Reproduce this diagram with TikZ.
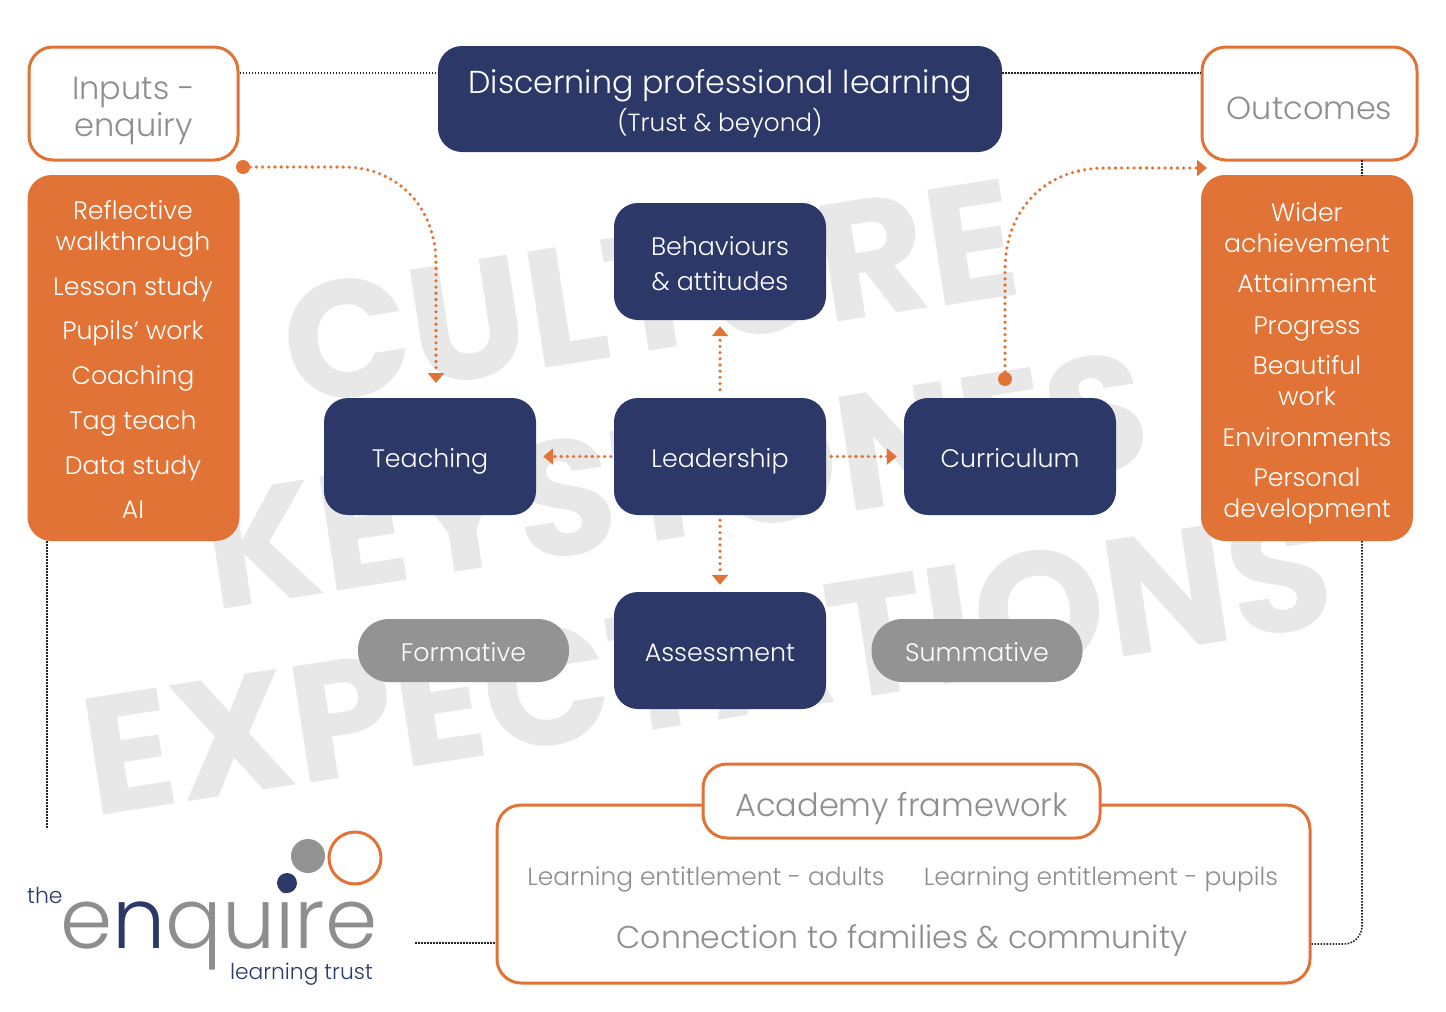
\documentclass[tikz,border=0pt]{standalone}
\usepackage{fontspec}
\setmainfont{Poppins}[UprightFont=* Light,BoldFont=* Bold]
\usetikzlibrary{arrows.meta,calc}
\definecolor{navy}{HTML}{2B3868}
\definecolor{orng}{HTML}{E07335}
\definecolor{midgrey}{HTML}{939393}
\definecolor{txtgrey}{HTML}{8E8E8E}
\definecolor{wm}{HTML}{E8E8E8}
\newcommand{\fs}[2]{\fontsize{#1}{#2}\selectfont}
\newcommand{\lift}[1]{\rule{0pt}{#1pt}}
\tikzset{
 base/.style={inner sep=0pt,align=center,rounded corners=24pt},
 navybox/.style={base,fill=navy,text=white,minimum width=212pt,minimum height=117pt,font=\fs{25.3}{35}},
 oneline/.style={text height=#1pt,text depth=3pt},
 outl/.style={base,draw=orng,line width=3pt,fill=white,text=txtgrey},
 listbox/.style={base,fill=orng,minimum width=212pt,minimum height=366pt},
 pill/.style={base,fill=midgrey,text=white,minimum width=211pt,minimum height=63pt,rounded corners=31pt,font=\fs{25.3}{30},oneline=25},
 li/.style={inner sep=0pt,align=center,text=white,font=\fs{25.2}{31}},
 lione/.style={inner sep=0pt,anchor=base,text=white,font=\fs{25.2}{31}},
 gt/.style={inner sep=0pt,text=txtgrey,anchor=base},
 wmk/.style={inner sep=0pt,text=wm,rotate=8.8,font=\bfseries\fs{167}{167}},
 link/.style={draw=black!85,line width=1.6pt,dash pattern=on 1.6pt off 1.4pt},
 flow/.style={draw=orng,line width=3.6pt,line cap=round,dash pattern=on 0pt off 6.2pt,-{Triangle[width=16pt,length=10pt]}},
}
\begin{document}
\begin{tikzpicture}[x=1pt,y=-1pt]
\useasboundingbox (0,0) rectangle (1446,1012);
% watermark
\node[wmk] (w1) at (650,292) {CULTURE};
\node[wmk,font=\bfseries\fs{164}{164}] (w2) at (676,480) {KEYSTONES};
\node[wmk] (w3) at (707,662) {EXPECTATIONS};
% anchors for free ends
\coordinate (leftend) at (47,829);
\coordinate (logoend) at (415,943);
% main boxes
\node[outl,minimum width=209pt,minimum height=113pt,font=\fs{32}{37}] (inputs) at (133.5,103.5) {\lift{38}Inputs -\\enquiry};
\node[base,fill=navy,text=white,minimum width=564pt,minimum height=106pt] (disc) at (720,99) {\fs{31.7}{38}\lift{34}Discerning professional learning\\[5pt]\fs{24.8}{38}(Trust \& beyond)};
\node[outl,minimum width=215pt,minimum height=113pt,font=\fs{31.9}{37},text height=35pt,text depth=4pt] (outcomes) at (1309.5,103.5) {Outcomes};
\node[listbox] (inlist) at (133.5,358) {};
\node[listbox] (outlist) at (1307,358) {};
\node[navybox] (beh) at (720,261.5) {\lift{24}Behaviours\\\& attitudes};
\node[navybox,oneline=25] (lead) at (720,456.5) {Leadership};
\node[navybox,oneline=25] (teach) at (430,456.5) {Teaching};
\node[navybox,oneline=25] (curr) at (1010,456.5) {Curriculum};
\node[navybox,oneline=24.5] (assess) at (720,650.5) {Assessment};
\node[pill] (form) at (463.5,650.5) {Formative};
\node[pill] (summ) at (977,650.5) {Summative};
% dotted frame
\draw[link] (inputs.east |- 0,73) -- (disc.west |- 0,73);
\draw[link] (disc.east |- 0,73) -- (outcomes.west |- 0,73);
\draw[link] (47,541) -- (leftend);
\draw[link] (1362,160) -- (1362,176);
% framework
\node[outl,minimum width=813pt,minimum height=178pt] (frame) at (903.5,894) {};
\node[outl,minimum width=397pt,minimum height=74pt,font=\fs{32}{37},text height=34pt,text depth=4pt] (tab) at (901.5,801) {Academy framework};
\draw[link] (logoend) -- (frame.west |- logoend);
\draw[link,rounded corners=18pt] (1362,541) -- (1362,944) -- (frame.east |- 0,944);
\node[gt,font=\fs{24.9}{30}] (e1) at (706,885) {Learning entitlement - adults};
\node[gt,font=\fs{24.9}{30}] (e2) at (1101,885) {Learning entitlement - pupils};
\node[gt,font=\fs{31.5}{38}] (e3) at (902,948) {Connection to families \& community};
% input list
\node[li] (i1) at (133,229) {Reflective\\walkthrough};
\node[lione] (i2) at (133,295) {Lesson study};
\node[lione] (i3) at (133,339) {Pupils’ work};
\node[lione] (i4) at (133,384) {Coaching};
\node[lione] (i5) at (133,429) {Tag teach};
\node[lione] (i6) at (133,474) {Data study};
\node[lione] (i7) at (133,518) {AI};
% outcome list
\node[li] (o1) at (1307,228) {Wider\\achievement};
\node[lione] (o2) at (1307,292) {Attainment};
\node[lione] (o3) at (1307,334) {Progress};
\node[li] (o4) at (1307,381) {Beautiful\\work};
\node[lione] (o5) at (1307,446) {Environments};
\node[li] (o6) at (1307,496) {Personal\\development};
% flows
\draw[flow,shorten <=8pt,shorten >=6pt] (lead) -- (beh);
\draw[flow,shorten <=3pt,shorten >=7pt] (lead) -- (teach);
\draw[flow,shorten <=5pt,shorten >=7pt] (lead) -- (curr);
\draw[flow,shorten <=5pt,shorten >=7pt] (lead) -- (assess);
\node[circle,fill=orng,minimum size=14pt,inner sep=0pt] (dotL) at (243,167) {};
\node[circle,fill=orng,minimum size=14pt,inner sep=0pt] (dotR) at (1005,379) {};
\coordinate (tipL) at (436,383);
\coordinate (tipR) at (1207,168);
\draw[flow] (dotL) -- (343,167) .. controls (400,167) and (436,210) .. (436,263) -- (tipL);
\draw[flow] (dotR) -- (1005,270) .. controls (1005,210) and (1045,168) .. (1105,168) -- (tipR);
% logo
\node[circle,fill=midgrey,minimum size=34pt,inner sep=0pt] (lg1) at (308,856) {};
\node[circle,draw=orng,line width=3pt,minimum size=52pt,inner sep=0pt] (lg2) at (355,858) {};
\node[anchor=base west,inner sep=0pt,text=navy,font=\fs{22}{26}] (lthe) at (27,903) {the};
\node[anchor=base west,inner sep=0pt,text=txtgrey,font=\fs{84}{90}] (lenq) at (60,948) {e\textcolor{navy}{n}quire};
\node[anchor=base east,inner sep=0pt,text=navy,font=\fs{21.8}{26}] (ltr) at (373,979) {learning trust};
\node[circle,fill=navy,minimum size=20pt,inner sep=0pt] (lg3) at (287,883) {};
\end{tikzpicture}
\end{document}
